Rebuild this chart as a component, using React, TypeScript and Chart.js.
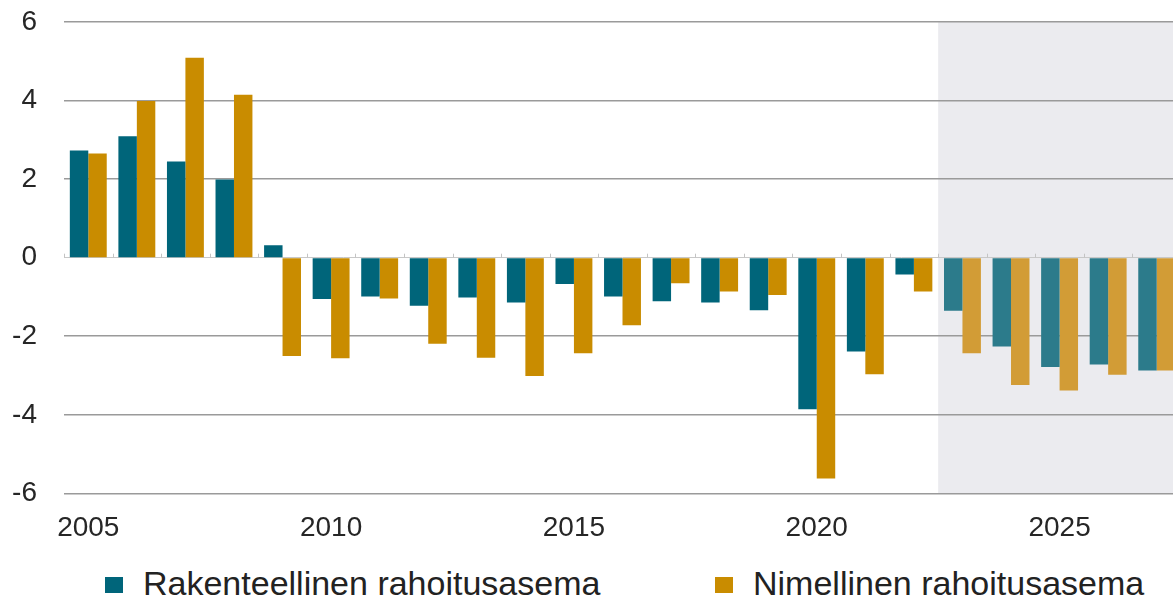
import React, { useEffect, useRef } from "react";
import { Chart, registerables } from "chart.js";

Chart.register(...registerables);

const years = [
  "2005", "2006", "2007", "2008", "2009", "2010", "2011", "2012", "2013", "2014", "2015", "2016",
  "2017", "2018", "2019", "2020", "2021", "2022", "2023", "2024", "2025", "2026", "2027",
];
const structural = [
  2.73, 3.09, 2.45, 1.99, 0.32, -1.05, -0.99, -1.22, -1.01, -1.14, -0.67, -0.99,
  -1.11, -1.14, -1.34, -3.86, -2.39, -0.43, -1.35, -2.26, -2.78, -2.72, -2.87,
];
const nominal = [
  2.65, 3.99, 5.09, 4.15, -2.5, -2.56, -1.04, -2.19, -2.55, -3.01, -2.43, -1.72,
  -0.65, -0.86, -0.95, -5.62, -2.97, -0.86, -2.43, -3.24, -3.38, -2.98, -2.87,
];
const labelledYears = ["2005", "2010", "2015", "2020", "2025"];
const forecastStart = "2023";
const seriesNames = ["Rakenteellinen rahoitusasema", "Nimellinen rahoitusasema"];
const yMin = -6;
const yMax = 6;
const yStep = 2;

const TEAL = "#00657a";
const GOLD = "#c98c00";
const TEAL_F = "#2c7b8b";
const GOLD_F = "#d29c36";
const FONT = "'Liberation Sans', Arial, sans-serif";

const forecastIdx = years.indexOf(forecastStart);
const colorsFor = (hist: string, fc: string) => years.map((_, i) => (i >= forecastIdx ? fc : hist));

const shadePlugin = {
  id: "shade",
  beforeDraw(chart: any) {
    const { ctx, chartArea, scales } = chart;
    const x = scales.x;
    const left = (x.getPixelForValue(forecastIdx - 1) + x.getPixelForValue(forecastIdx)) / 2;
    ctx.save();
    ctx.fillStyle = "#ebebef";
    ctx.fillRect(left, chartArea.top, chartArea.right - left, chartArea.bottom - chartArea.top);
    ctx.restore();
  },
  beforeDatasetsDraw(chart: any) {
    const { ctx, scales } = chart;
    const x = scales.x;
    const y0 = scales.y.getPixelForValue(0);
    const step = x.getPixelForValue(1) - x.getPixelForValue(0);
    ctx.save();
    ctx.strokeStyle = "#c4c4c4";
    ctx.lineWidth = 1;
    for (let i = 0; i <= years.length; i++) {
      const px = x.getPixelForValue(0) - step / 2 + i * step;
      ctx.beginPath();
      ctx.moveTo(Math.round(px) + 0.5, y0);
      ctx.lineTo(Math.round(px) + 0.5, y0 - 4);
      ctx.stroke();
    }
    ctx.restore();
  },
};

export default function App() {
  const ref = useRef<HTMLCanvasElement | null>(null);

  useEffect(() => {
    if (!ref.current) return;
    const chart = new Chart(ref.current, {
      type: "bar",
      data: {
        labels: years,
        datasets: [
          {
            label: seriesNames[0],
            data: structural,
            backgroundColor: colorsFor(TEAL, TEAL_F),
            categoryPercentage: 0.76,
            barPercentage: 1,
          },
          {
            label: seriesNames[1],
            data: nominal,
            backgroundColor: colorsFor(GOLD, GOLD_F),
            categoryPercentage: 0.76,
            barPercentage: 1,
          },
        ],
      },
      options: {
        responsive: false,
        animation: false,
        layout: { padding: { top: 0, right: 19, left: 0, bottom: 0 } },
        plugins: {
          legend: { display: false },
          tooltip: { enabled: false },
        },
        scales: {
          x: {
            grid: { display: false, drawTicks: false },
            border: { display: false },
            ticks: {
              autoSkip: false,
              maxRotation: 0,
              padding: 18,
              color: "#262626",
              font: { family: FONT, size: 28 },
              callback: (_v: any, i: number) => (labelledYears.includes(years[i]) ? years[i] : ""),
            },
          },
          y: {
            min: yMin,
            max: yMax,
            afterFit: (s: any) => {
              s.width = 64;
              s.paddingTop = 22;
              s.paddingBottom = 0;
            },
            grid: {
              drawTicks: false,
              color: (c: any) => (c.tick && c.tick.value === 0 ? "#c8c8c8" : "#9a9a9a"),
              lineWidth: (c: any) => (c.tick && c.tick.value === 0 ? 1 : 1.6),
            },
            border: { display: false },
            ticks: {
              stepSize: yStep,
              padding: 27,
              color: "#262626",
              font: { family: FONT, size: 28 },
            },
          },
        },
      },
      plugins: [shadePlugin],
    });
    return () => chart.destroy();
  }, []);

  const legendItem = (name: string, color: string, left: number) => (
    <div
      key={name}
      style={{
        position: "absolute",
        left,
        top: 566,
        height: 34,
        display: "flex",
        alignItems: "center",
        whiteSpace: "nowrap",
      }}
    >
      <span style={{ width: 18, height: 16, background: color, display: "inline-block", marginRight: 20, marginTop: 3 }} />
      <span style={{ fontFamily: FONT, fontSize: 34, lineHeight: "34px", color: "#222" }}>{name}</span>
    </div>
  );

  return (
    <div
      style={{
        position: "fixed",
        left: 0,
        top: 0,
        width: 1173,
        height: 599,
        overflow: "hidden",
        background: "#fff",
      }}
    >
      <canvas ref={ref} width={1200} height={563} style={{ position: "absolute", left: 0, top: 0 }} />
      {legendItem(seriesNames[0], TEAL, 105)}
      {legendItem(seriesNames[1], GOLD, 715)}
    </div>
  );
}
